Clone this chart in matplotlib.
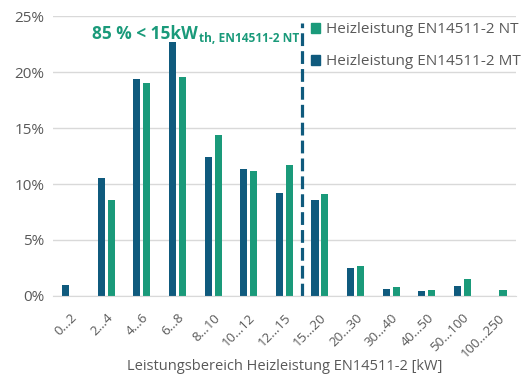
import matplotlib
matplotlib.use("Agg")
import matplotlib.pyplot as plt
import matplotlib.transforms as mtransforms
import numpy as np
from matplotlib.patches import Patch

# Heating capacity classes and share of units per class (%)
categories = ["0…2", "2…4", "4…6", "6…8", "8…10", "10…12", "12…15",
              "15…20", "20…30", "30…40", "40…50", "50…100", "100…250"]
share_mt = [1.0, 10.5, 19.4, 22.7, 12.4, 11.3, 9.2, 8.6, 2.5, 0.6, 0.4, 0.9, 0.0]
share_nt = [0.0, 8.6, 19.0, 19.6, 14.4, 11.2, 11.7, 9.1, 2.7, 0.8, 0.5, 1.5, 0.5]
yticks = [0, 5, 10, 15, 20, 25]

COL_MT = "#0f5a7d"
COL_NT = "#1a9a7a"
GREY = "#595959"
GRID = "#d9d9d9"

plt.rcParams["font.family"] = ["Open Sans", "DejaVu Sans"]

fig = plt.figure(figsize=(5.28, 3.76), dpi=100)
ax = fig.add_axes([0.10, 0.213, 0.877, 0.744])

x = np.arange(len(categories))
w = 0.2
ax.bar(x - 0.14, share_mt, width=w, color=COL_MT, zorder=3)
ax.bar(x + 0.14, share_nt, width=w, color=COL_NT, zorder=3)

ax.set_xlim(-0.5, len(categories) - 0.5)
ax.set_ylim(0, 25)
ax.set_yticks(yticks)
ax.set_yticklabels([f"{v}%" for v in yticks], color=GREY, fontsize=11)
ax.set_xticks(x)
ax.set_xticklabels(categories, rotation=45, ha="right", rotation_mode="anchor",
                   color=GREY, fontsize=9.5)
ax.tick_params(axis="y", length=0, pad=6)
ax.tick_params(axis="x", length=0, pad=11)
ax.grid(axis="y", color=GRID, linewidth=1, zorder=0)
for side in ("top", "right", "left"):
    ax.spines[side].set_visible(False)
ax.spines["bottom"].set_color(GRID)
ax.spines["bottom"].set_zorder(4)

fig.text(0.54, 0.016, "Leistungsbereich Heizleistung EN14511-2 [kW]",
         color=GREY, fontsize=10.5, ha="center", va="baseline")

# 15 kW boundary
ax.plot([6.5, 6.5], [0, 24.4], color=COL_MT, linewidth=2.3,
        linestyle=(0, (4, 1.6)), zorder=4, clip_on=False)

# "85 % < 15kW" with a bold subscript, placed left of the boundary line
tx, ty = 0.6, 23.0
main = ax.text(tx, ty, "85 % < 15kW", color=COL_NT, fontsize=12.4,
               fontweight="bold", ha="left", va="baseline")
fig.canvas.draw()
main_w = main.get_window_extent().width
sub_tr = mtransforms.offset_copy(ax.transData, fig=fig, x=main_w + 1,
                                 y=-3, units="dots")
ax.text(tx, ty, "th, EN14511-2 NT", color=COL_NT, fontsize=8.6,
        fontweight="bold", ha="left", va="baseline", transform=sub_tr)

handles = [Patch(color=COL_NT), Patch(color=COL_MT)]
ax.legend(handles, ["Heizleistung EN14511-2 NT", "Heizleistung EN14511-2 MT"],
          loc="upper left", bbox_to_anchor=(0.545, 1.0), frameon=False,
          fontsize=11, handlelength=0.6, handleheight=0.6, handletextpad=0.35,
          labelspacing=1.1, labelcolor=GREY, borderaxespad=0)

fig.savefig("out.png", dpi=100)
